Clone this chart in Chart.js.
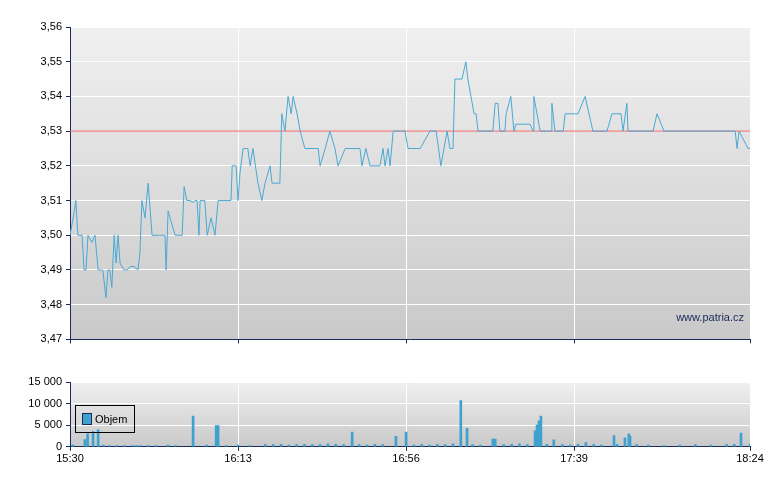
<!DOCTYPE html>
<html><head><meta charset="utf-8">
<script src="https://cdn.jsdelivr.net/npm/chart.js@4/dist/chart.umd.min.js"></script>
<style>
body{margin:0;background:#fff;width:780px;height:490px;position:relative;font-family:"Liberation Sans",Arial,sans-serif}
canvas{position:absolute;left:0}
#legend{position:absolute;left:75px;top:405px;width:58px;height:26px;border:1px solid #000;font-size:11px;color:#000;display:flex;align-items:center;background:transparent}
#legend span{display:inline-block;width:8px;height:10px;background:#3fa1d0;border:1px solid #1a2a5a;margin:0 3px 0 6px}
</style></head><body>
<canvas id="p" width="780" height="350" style="top:0"></canvas>
<canvas id="v" width="780" height="108" style="top:360px"></canvas>
<div id="legend"><span></span>Objem</div>
<script>
const tickMinutes=[0,43,86,129,174];
const tickLabels=["15:30","16:13","16:56","17:39","18:24"];
const priceMin=[0,0.8,1.5,2.0,3.1,3.6,4.1,4.6,5.6,6.4,7.2,7.7,8.4,9.2,9.7,10.2,10.7,11.3,11.8,12.3,12.8,13.8,14.6,15.4,16.4,17.4,17.9,18.4,19.2,20.0,21.0,23.0,24.3,24.6,25.1,26.9,27.6,28.7,29.2,29.9,30.7,31.5,32.0,32.5,33.0,33.3,34.0,34.5,35.1,36.1,37.1,37.9,38.4,41.2,41.5,42.5,43.0,43.5,44.3,45.5,46.1,46.8,48.1,49.1,49.9,51.2,51.7,53.7,54.2,55.0,55.8,56.6,57.1,58.1,58.9,60.1,63.5,64.0,65.3,66.5,67.8,68.6,70.4,74.2,74.7,75.7,76.8,79.3,80.1,80.6,81.4,81.9,82.7,85.7,86.5,89.6,92.1,93.7,94.9,96.5,97.2,98.0,98.5,100.3,101.3,101.8,103.4,103.9,104.4,108.2,108.8,109.5,110.0,111.3,111.6,112.8,113.6,114.1,117.7,118.5,118.7,119.5,120.3,123.1,123.3,124.1,126.2,126.7,130.0,131.8,132.8,133.8,137.4,138.7,141.0,141.5,142.5,142.8,149.2,150.2,152.0,170.2,170.7,171.2,173.5,174];
const priceVal=[3.50,3.505,3.51,3.50,3.50,3.49,3.49,3.50,3.498,3.50,3.49,3.49,3.49,3.482,3.49,3.49,3.485,3.50,3.492,3.50,3.492,3.49,3.49,3.491,3.491,3.49,3.495,3.51,3.505,3.515,3.50,3.50,3.50,3.49,3.507,3.50,3.50,3.50,3.514,3.51,3.51,3.5095,3.51,3.51,3.50,3.51,3.51,3.51,3.50,3.505,3.50,3.51,3.51,3.51,3.52,3.52,3.51,3.518,3.525,3.525,3.52,3.525,3.515,3.51,3.515,3.52,3.515,3.515,3.535,3.53,3.54,3.535,3.54,3.535,3.53,3.525,3.525,3.52,3.525,3.53,3.525,3.52,3.525,3.525,3.52,3.525,3.52,3.52,3.525,3.52,3.525,3.52,3.53,3.53,3.525,3.525,3.53,3.53,3.52,3.53,3.525,3.525,3.545,3.545,3.55,3.545,3.535,3.535,3.53,3.53,3.538,3.538,3.53,3.53,3.535,3.54,3.53,3.532,3.532,3.53,3.54,3.535,3.53,3.53,3.538,3.53,3.53,3.535,3.535,3.54,3.535,3.53,3.53,3.535,3.535,3.53,3.538,3.53,3.53,3.535,3.53,3.53,3.525,3.53,3.525,3.525];
const refPrice=3.53;
const volMin=[0.7,3.8,4.5,5.9,7.2,8.5,10,12,14,16,17,18,20,22,25,27,31.5,35,37.4,37.9,40,43,46,50,52,54,56,58,60,62,64,66,68,70,72.2,74,76,78,80,83.4,86,88,90,92,94,96,98,100,101.6,103,105,108.2,108.8,111,113,115,117,119,119.5,120,120.5,122,123.8,126,128,130,132,134,136,139.2,140,142,143,143.3,145,148,152,156,160,164,168,170,171.7,174];
const volVal=[430,1700,3000,3500,3900,400,300,300,300,300,300,300,300,300,400,300,7100,400,4900,4900,300,400,300,500,500,600,400,500,600,500,500,700,600,500,3400,500,400,600,500,2400,3400,400,500,400,600,500,700,10700,4300,500,400,1800,1800,500,600,700,500,3700,5000,6000,7100,600,1600,500,400,600,1000,500,400,2600,600,2100,3000,2500,500,400,300,400,500,400,500,600,3200,600];

const pts=(xs,ys)=>xs.map((x,i)=>({x:x,y:ys[i]}));
const bgPlugin={id:'bg',beforeDraw(c){const a=c.chartArea,ctx=c.ctx;const g=ctx.createLinearGradient(0,a.top,0,a.bottom);g.addColorStop(0,'#f0f0f0');g.addColorStop(1,'#c9c9c9');ctx.save();ctx.fillStyle=g;ctx.fillRect(a.left,a.top,a.right-a.left,a.bottom-a.top);ctx.restore();}};
const wmPlugin={id:'wm',afterDatasetsDraw(c){const a=c.chartArea,ctx=c.ctx;ctx.save();ctx.font='11px "Liberation Sans",Arial';ctx.fillStyle='#1a2a5a';ctx.textAlign='right';ctx.fillText('www.patria.cz',a.right-6,a.bottom-18);ctx.restore();}};
const axisColor='#1a2a5a';
const xScale=(showLabels)=>({type:'linear',min:0,max:174,offset:false,
  afterBuildTicks(s){s.ticks=tickMinutes.map(v=>({value:v}));},
  ticks:{display:showLabels,autoSkip:false,maxRotation:0,color:'#000',font:{size:11,family:'"Liberation Sans",Arial'},padding:2,
    callback:(v)=>tickLabels[tickMinutes.indexOf(v)]},
  grid:{offset:false,color:'#ffffff',lineWidth:1,drawTicks:true,tickLength:4,tickColor:axisColor},
  border:{color:axisColor,width:1}});
const yFit=(s)=>{s.width=70;};
Chart.defaults.animation=false;
new Chart(document.getElementById('p'),{type:'line',
  data:{datasets:[
    {data:pts(priceMin,priceVal),borderColor:'#4aa8d4',borderWidth:1,pointRadius:0,tension:0},
    {data:[{x:0,y:refPrice},{x:174,y:refPrice}],borderColor:'#f06060',borderWidth:1,pointRadius:0}
  ]},
  options:{responsive:false,layout:{padding:{top:27,right:30,bottom:0}},plugins:{legend:{display:false},tooltip:{enabled:false}},
    scales:{x:xScale(false),
      y:{min:3.47,max:3.56,afterFit:yFit,
        afterBuildTicks(s){const t=[];for(let i=0;i<=9;i++)t.push({value:+(3.47+i*0.01).toFixed(2)});s.ticks=t;},
        ticks:{color:'#000',font:{size:11,family:'"Liberation Sans",Arial'},padding:4,callback:v=>v.toFixed(2).replace('.',',')},
        grid:{color:'#ffffff',tickLength:4,tickColor:axisColor},border:{color:axisColor}}}},
  plugins:[bgPlugin,wmPlugin]});
new Chart(document.getElementById('v'),{type:'bar',
  data:{datasets:[{data:pts(volMin,volVal),backgroundColor:'#3fa1d0',barThickness:2,grouped:false}]},
  options:{responsive:false,layout:{padding:{top:22,right:30,bottom:0}},plugins:{legend:{display:false},tooltip:{enabled:false}},
    scales:{x:xScale(true),
      y:{min:0,max:15000,afterFit:yFit,
        afterBuildTicks(s){s.ticks=[0,5000,10000,15000].map(v=>({value:v}));},
        ticks:{color:'#000',font:{size:11,family:'"Liberation Sans",Arial'},padding:4,callback:v=>v===0?'0':v.toLocaleString('en').replace(',',' ')},
        grid:{color:'#ffffff',tickLength:4,tickColor:axisColor},border:{color:axisColor}}}},
  plugins:[bgPlugin]});
</script></body></html>
